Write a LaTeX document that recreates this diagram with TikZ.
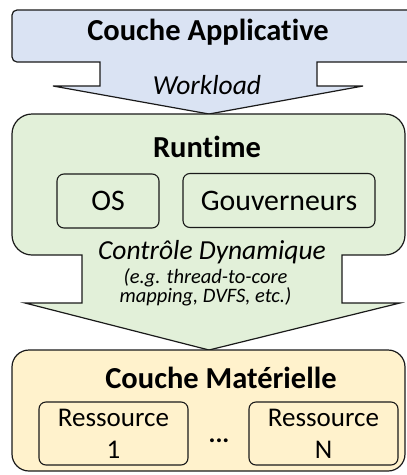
\documentclass[tikz,border=0pt]{standalone}
\usepackage{fontspec}
\setmainfont{Carlito}[Ligatures=NoCommon]
\definecolor{blueF}{HTML}{DAE3F3}
\definecolor{greenF}{HTML}{E2F0D9}
\definecolor{yellowF}{HTML}{FFF2CC}
\definecolor{lineC}{HTML}{1A1A1A}
\begin{document}
\begin{tikzpicture}[x=1pt,y=-1pt,
  shapeline/.style={draw=lineC, line width=1.2pt, line join=miter},
  innerbox/.style={draw=lineC, line width=1.1pt, rounded corners=7pt, inner sep=0pt, align=center},
  hdr/.style={font=\bfseries\fontsize{30.5}{36}\selectfont, inner sep=0pt},
  midtxt/.style={font=\fontsize{29.8}{35}\selectfont},
  flowtxt/.style={font=\itshape\fontsize{27.5}{33}\selectfont, inner sep=0pt},
  smalltxt/.style={font=\itshape\fontsize{20.5}{17}\selectfont, inner sep=0pt, align=center},
  restxt/.style={font=\fontsize{27}{32}\selectfont}]
\useasboundingbox (0,0) rectangle (407,475);
\clip (0,0) rectangle (407,475);
% top callout
\filldraw[shapeline, fill=blueF] (420,10) -- (17,10) .. controls (14.24,10) and (12,12.24) .. (12,15) -- (12,57) .. controls (12,59.76) and (14.24,62) .. (17,62) -- (100,62) -- (100,86) -- (53,86) -- (209,114) -- (363,86) -- (317,86) -- (317,62) -- (420,62) -- cycle;
% green callout
\filldraw[shapeline, fill=greenF] (32,114) -- (385,114) .. controls (396,114) and (405,123) .. (405,134) -- (405,235) .. controls (405,246) and (396,255) .. (385,255) -- (342,255) -- (342,303) -- (400,303) -- (209,350) -- (25,303) -- (82,303) -- (82,255) -- (32,255) .. controls (21,255) and (12,246) .. (12,235) -- (12,134) .. controls (12,123) and (21,114) .. (32,114) -- cycle;
% yellow box
\filldraw[shapeline, fill=yellowF, rounded corners=17pt] (12,350) rectangle (405,471);
% texts
\node[hdr] (app) at (208,32) {Couche Applicative};
\node[flowtxt] (work) at (207,85) {Workload};
\node[hdr] (rt) at (207,147) {Runtime};
\node[innerbox, midtxt, minimum width=102pt, minimum height=54pt] (os) at (108,201) {OS};
\node[innerbox, midtxt, minimum width=192pt, minimum height=54pt] (gov) at (279,200.5) {Gouverneurs};
\node[flowtxt, anchor=base, text depth=0pt] (ctrl) at (212,259.5) {Contrôle Dynamique};
\node[smalltxt] (eg) at (205.5,287.5) {(e.g. thread-to-core\\mapping, DVFS, etc.)};
\node[hdr] (hw) at (221,378) {Couche Matérielle};
\node[innerbox, restxt, minimum width=149pt, minimum height=63pt] (r1) at (113.5,433.5) {Ressource\\1};
\node[innerbox, restxt, minimum width=149pt, minimum height=63pt] (rn) at (323.5,433.5) {Ressource\\N};
\node[font=\bfseries\fontsize{26}{32}\selectfont, inner sep=0pt] (dots) at (219,441) {...};
\end{tikzpicture}
\end{document}
